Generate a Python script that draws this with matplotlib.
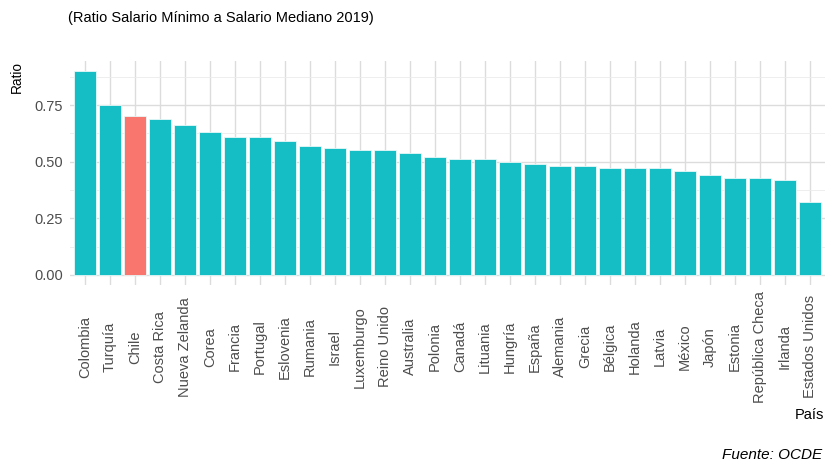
import matplotlib
matplotlib.use("Agg")
import matplotlib.pyplot as plt
from matplotlib.ticker import FixedLocator

paises = ["Colombia", "Turquía", "Chile", "Costa Rica", "Nueva Zelanda", "Corea",
          "Francia", "Portugal", "Eslovenia", "Rumania", "Israel", "Luxemburgo",
          "Reino Unido", "Australia", "Polonia", "Canadá", "Lituania", "Hungría",
          "España", "Alemania", "Grecia", "Bélgica", "Holanda", "Latvia", "México",
          "Japón", "Estonia", "República Checa", "Irlanda", "Estados Unidos"]
ratio = [0.90, 0.75, 0.70, 0.69, 0.66, 0.63, 0.61, 0.61, 0.59, 0.57, 0.56, 0.55,
         0.55, 0.54, 0.52, 0.51, 0.51, 0.50, 0.49, 0.48, 0.48, 0.47, 0.47, 0.47,
         0.46, 0.44, 0.43, 0.43, 0.42, 0.32]
destacado = "Chile"
yticks = [0.00, 0.25, 0.50, 0.75]
ytick_labels = ["0.00", "0.25", "0.50", "0.75"]

FAM = ["Liberation Sans", "DejaVu Sans"]
plt.rcParams["font.family"] = FAM

W, H = 826, 463
fig = plt.figure(figsize=(W / 100, H / 100), dpi=100)
left, right, top, bottom = 70, 825, 61, 285
ax = fig.add_axes([left / W, 1 - bottom / H, (right - left) / W, (bottom - top) / H])

colors = ["#F8766D" if p == destacado else "#14BEC4" for p in paises]
x = list(range(len(paises)))
ax.bar(x, ratio, width=0.9, color=colors, edgecolor="#E8F8F8", linewidth=0.6, zorder=3)

ax.set_xlim(-0.6, len(paises) - 0.4)
ymax = max(ratio)
ax.set_ylim(-0.05 * ymax, ymax * 1.05)

ax.set_xticks(x)
ax.set_xticklabels(paises, rotation=90, ha="center", va="center",
                   fontsize=10.5, color="#4D4D4D")
ax.yaxis.set_major_locator(FixedLocator(yticks))
ax.set_yticklabels(ytick_labels, fontsize=10.5, color="#4D4D4D")
ax.yaxis.set_minor_locator(FixedLocator([0.125, 0.375, 0.625, 0.875]))
ax.tick_params(axis="both", which="both", length=0)
ax.tick_params(axis="x", pad=44.5)
ax.tick_params(axis="y", pad=5)

ax.grid(True, which="major", color="#DCDCDC", linewidth=1.0, zorder=0)
ax.grid(True, which="minor", axis="y", color="#EBEBEB", linewidth=0.6, zorder=0)
for s in ax.spines.values():
    s.set_visible(False)
ax.set_axisbelow(True)

fig.text(68 / W, 1 - 18 / H, "(Ratio Salario Mínimo a Salario Mediano 2019)",
         fontsize=10.5, color="black", ha="left", va="center")
fig.text(17 / W, 1 - 77 / H, "Ratio", rotation=90, fontsize=9.8,
         ha="center", va="center", color="black")
fig.text(824 / W, 1 - 415 / H, "País", fontsize=10.5, ha="right", va="center",
         color="black")
fig.text(822 / W, 1 - 455 / H, "Fuente: OCDE", fontsize=11, style="italic",
         ha="right", va="center", color="black")

fig.savefig("out.png", dpi=100)
